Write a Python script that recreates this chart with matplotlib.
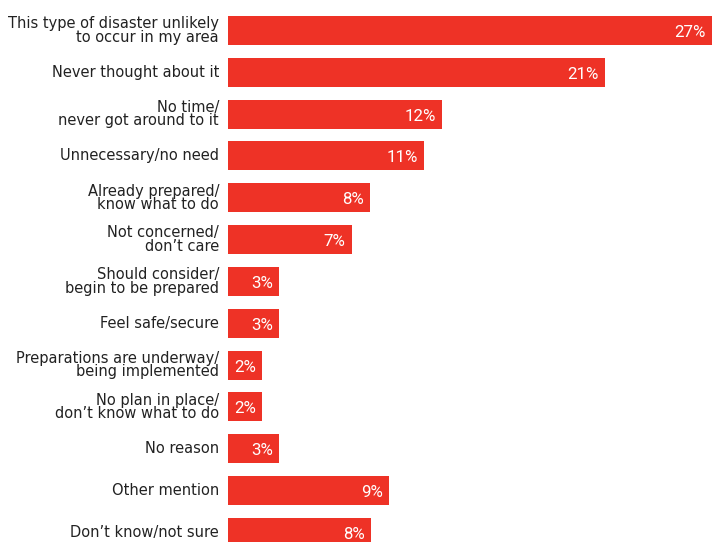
import matplotlib

matplotlib.use("Agg")
import matplotlib.pyplot as plt
import numpy as np

categories = [
    "This type of disaster unlikely\nto occur in my area",
    "Never thought about it",
    "No time/\nnever got around to it",
    "Unnecessary/no need",
    "Already prepared/\nknow what to do",
    "Not concerned/\ndon\u2019t care",
    "Should consider/\nbegin to be prepared",
    "Feel safe/secure",
    "Preparations are underway/\nbeing implemented",
    "No plan in place/\ndon\u2019t know what to do",
    "No reason",
    "Other mention",
    "Don\u2019t know/not sure",
]
values = [27, 21, 11.95, 10.95, 7.9, 6.9, 2.85, 2.85, 1.9, 1.9, 2.85, 9, 7.95]
labels = ["27%", "21%", "12%", "11%", "8%", "7%", "3%", "3%", "2%", "2%", "3%", "9%", "8%"]

RED = "#EE3226"

fig = plt.figure(figsize=(7.2, 5.42), dpi=100)
ax = fig.add_axes([0, 0, 1, 1])

px_per_unit = 17.93
row_pitch = 41.83
ypos = np.arange(len(categories))

ax.barh(ypos, values, height=29 / row_pitch, color=RED, left=0)
ax.set_xlim(-228 / px_per_unit, (720 - 228) / px_per_unit)
ax.set_ylim((542 - 30.5) / row_pitch, -30.5 / row_pitch)
ax.set_axis_off()

for y, cat in zip(ypos, categories):
    ax.text(-9 / px_per_unit, y, cat, ha="right", va="center", fontsize=10.5,
            linespacing=0.88, color="#222222", family=["DejaVu Sans"])

for y, v, lab in zip(ypos, values, labels):
    ax.annotate(lab, (v, y), xytext=(-6, -2), textcoords="offset pixels",
                ha="right", va="center", fontsize=12.2, color="white",
                family=["Roboto", "DejaVu Sans"])

fig.savefig("out.png", dpi=100)
